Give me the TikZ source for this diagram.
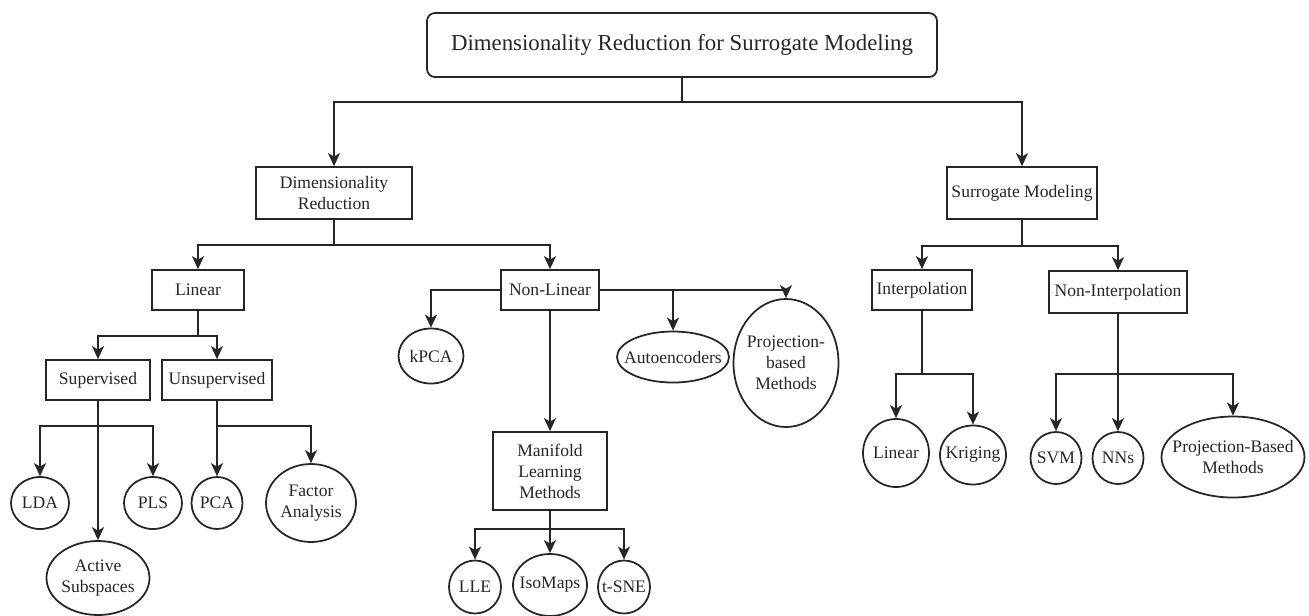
\documentclass[tikz,border=0pt]{standalone}
\usepackage{fontspec}
\setmainfont{Liberation Serif}
\usepackage{tikz}
\usetikzlibrary{shapes.geometric,arrows.meta}

\tikzset{
  box/.style 2 args={draw, rectangle, inner sep=0pt, align=center,
    minimum width=#1*0.2mm, minimum height=#2*0.2mm},
  oval/.style 2 args={draw, ellipse, inner sep=-40pt, align=center,
    minimum width=#1*0.2mm, minimum height=#2*0.2mm},
  link/.style={-{Stealth[length=2.6mm,width=2.4mm,inset=0.7mm]}},
}

\begin{document}
\begin{tikzpicture}[x=0.2mm, y=-0.2mm, line width=1pt, color=black!85,
  every node/.style={font=\fontsize{10}{12}\selectfont}]
\useasboundingbox (0,0) rectangle (1309,615);

\node[box={510}{64}, rounded corners=1.6mm, font=\fontsize{13}{15}\selectfont] (title) at (682,45) {Dimensionality Reduction for Surrogate Modeling};

% second level
\node[box={156}{52}] (dimred) at (334,193) {Dimensionality\\Reduction};
\node[box={150}{52}] (surr) at (1022,193) {Surrogate Modeling};

% dimensionality reduction branch
\node[box={92}{40}] (linear) at (198,290) {Linear};
\node[box={98}{40}] (nonlin) at (550,290) {Non-Linear};
\node[box={104}{40}] (sup) at (98,380) {Supervised};
\node[box={110}{40}] (unsup) at (217,380) {Unsupervised};
\node[oval={58}{52}] (lda) at (40,503) {LDA};
\node[oval={58}{52}] (pls) at (153,503) {PLS};
\node[oval={103}{74}] (active) at (98,578) {Active\\Subspaces};
\node[oval={51}{52}] (pca) at (217,503) {PCA};
\node[oval={90}{78}] (factor) at (311,503) {Factor\\Analysis};
\node[oval={65}{55}] (kpca) at (431,356) {kPCA};
\node[oval={112}{51}] (autoenc) at (673,357) {Autoencoders};
\node[oval={105}{128}] (projnl) at (786,363) {Projection-\\based\\Methods};
\node[box={114}{78}] (manifold) at (550,471) {Manifold\\Learning\\Methods};
\node[oval={52}{53}] (lle) at (475,587) {LLE};
\node[oval={74}{62}] (iso) at (550,585) {IsoMaps};
\node[oval={52}{53}] (tsne) at (624,587) {t-SNE};

% surrogate modeling branch
\node[box={100}{40}] (interp) at (922,290) {Interpolation};
\node[box={138}{42}] (noninterp) at (1118,292) {Non-Interpolation};
\node[oval={66}{68}] (linI) at (896,453) {Linear};
\node[oval={66}{59}] (krig) at (973,455) {Kriging};
\node[oval={51}{52}] (svm) at (1056,458) {SVM};
\node[oval={51}{52}] (nns) at (1118,458) {NNs};
\node[oval={143}{81}] (projsm) at (1233,457) {Projection-Based\\Methods};

% junctions
\coordinate (j0) at (682,102);
\coordinate (jdr) at (334,245);
\coordinate (jlin) at (198,336);
\coordinate (jsup) at (98,426);
\coordinate (junsup) at (217,426);
\coordinate (jman) at (550,529);
\coordinate (jsurr) at (1022,246);
\coordinate (jint) at (922,374);
\coordinate (jnonint) at (1118,374);

\draw (title) -- (j0);
\draw[link] (j0) -| (dimred);
\draw[link] (j0) -| (surr);

\draw (dimred) -- (jdr);
\draw[link] (jdr) -| (linear);
\draw[link] (jdr) -| (nonlin);

\draw (linear) -- (jlin);
\draw[link] (jlin) -| (sup);
\draw[link] (jlin) -| (unsup);

\draw[link] (jsup) -| (lda);
\draw[link] (jsup) -| (pls);
\draw[link] (sup) -- (active);
\draw[link] (unsup) -- (pca);
\draw[link] (junsup) -| (factor);

\draw[link] (nonlin.west) -| (kpca);
\draw[link] (nonlin.east) -| (autoenc);
\draw[link] (nonlin.east) -| (projnl);
\draw[link] (nonlin) -- (manifold);

\draw[link] (manifold) -- (iso);
\draw[link] (jman) -| (lle);
\draw[link] (jman) -| (tsne);

\draw (surr) -- (jsurr);
\draw[link] (jsurr) -| (interp);
\draw[link] (jsurr) -| (noninterp);

\draw (interp) -- (jint);
\draw[link] (jint) -| (linI);
\draw[link] (jint) -| (krig);

\draw[link] (noninterp) -- (nns);
\draw[link] (jnonint) -| (svm);
\draw[link] (jnonint) -| (projsm);
\end{tikzpicture}
\end{document}
